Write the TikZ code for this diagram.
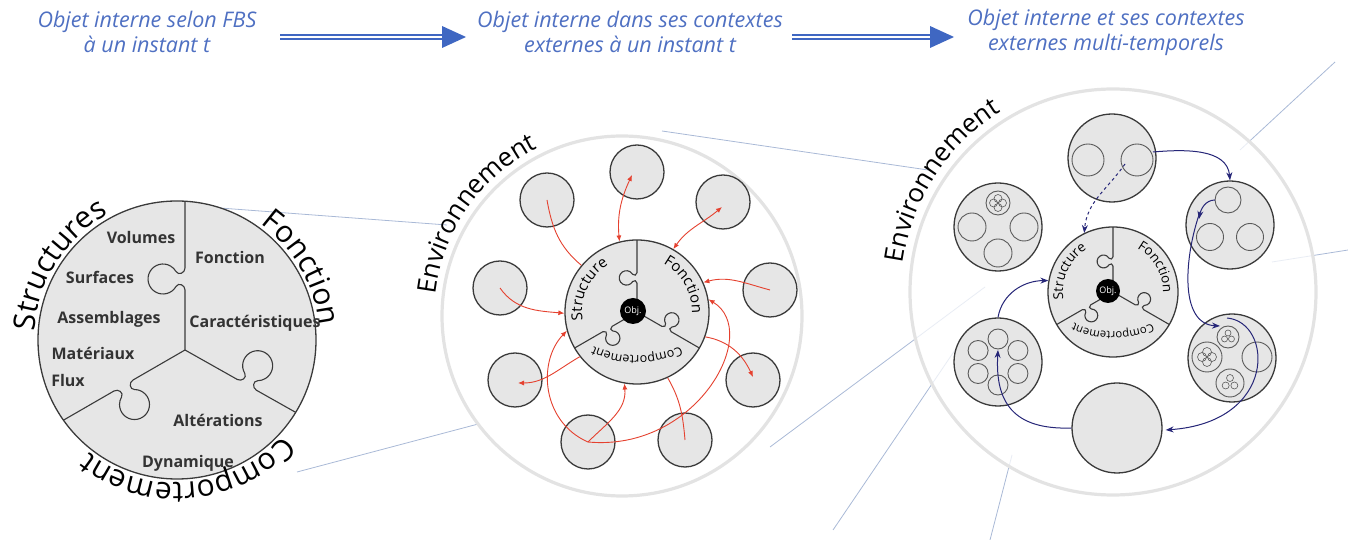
\documentclass[tikz,border=0pt]{standalone}
\usepackage{fontspec}
\setmainfont{Open Sans}
\usetikzlibrary{arrows.meta,decorations.text,calc}
\definecolor{ttlc}{HTML}{4F70C2}
\definecolor{tarrow}{HTML}{3F67C2}
\definecolor{zlc}{HTML}{A9B9D6}
\definecolor{ringc}{HTML}{E3E3E3}
\definecolor{cfill}{HTML}{E6E6E6}
\definecolor{cline}{HTML}{3A3A3A}
\definecolor{subline}{HTML}{5A5A5A}
\definecolor{ltc}{HTML}{333333}
\definecolor{redc}{HTML}{E5412F}
\definecolor{navy}{HTML}{262678}
\newcommand\puzarm[2]{%
  \begin{scope}[rotate=#1,scale=#2]
    \draw[puz] (0,0) -- (60,0) .. controls (65,0) and (67.8,6.5) .. (63.5,9)
      arc[start angle=240,end angle=-60,radius=15]
      .. controls (74.2,6.5) and (77,0) .. (82,0) -- (320,0);
  \end{scope}}
\newcommand\arctext[5]{%
  \path[decorate,decoration={text along path,text align=center,
    text={|\fontsize{#1}{#1}\selectfont|#2}}]
    (#3:#4) arc[start angle=#3,end angle=#5,radius=#4];}
\begin{document}
\begin{tikzpicture}[x=1pt,y=1pt,
  ttl/.style={align=center,text=ttlc,font=\fontsize{21.5}{25}\selectfont\itshape,inner sep=0},
  tshaft/.style={draw=tarrow,double=white,double distance=1.6pt,line width=2.6pt},
  zl/.style={draw=zlc,line width=0.8pt},
  ring/.style={circle,draw=ringc,line width=3.2pt,fill=white,inner sep=0},
  sat/.style={circle,draw=cline,line width=1.3pt,fill=cfill,inner sep=0},
  core/.style={circle,draw=cline,line width=1.3pt,fill=cfill,inner sep=0},
  puz/.style={draw=cline,line width=1.1pt},
  sub/.style={draw=subline,line width=0.9pt,fill=cfill},
  tinyc/.style={draw=subline,line width=0.6pt},
  lt/.style={font=\bfseries\fontsize{16}{16}\selectfont,text=ltc,inner sep=0},
  objc/.style={circle,fill=black,text=white,inner sep=0,minimum size=26,font=\fontsize{9}{9}\selectfont},
  rl/.style={draw=redc,line width=0.9pt},
  rarr/.style={rl,-{Latex[length=6pt,width=5pt]}},
  rdbl/.style={rl,{Latex[length=6pt,width=5pt]}-{Latex[length=6pt,width=5pt]}},
  bl/.style={draw=navy,line width=1pt,-{Stealth[length=8pt,width=6pt]}},
]
\useasboundingbox (0,0) rectangle (1348,540);

% ---------- titles ----------
\node[ttl] (t1) at (147,508) {Objet interne selon FBS\\à un instant t};
\node[ttl] (t2) at (630,508) {Objet interne dans ses contextes\\externes à un instant t};
\node[ttl] (t3) at (1106,508) {Objet interne et ses contextes\\externes multi-temporels};
\coordinate (a1s) at (280,503); \coordinate (a1e) at (444,503);
\coordinate (a2s) at (792,503); \coordinate (a2e) at (932,503);
\draw[tshaft] (a1s) -- (a1e);
\fill[tarrow] ($(a1e)+(-2,11)$) -- ($(a1e)+(22,0)$) -- ($(a1e)+(-2,-11)$) -- cycle;
\draw[tshaft] (a2s) -- (a2e);
\fill[tarrow] ($(a2e)+(-2,11)$) -- ($(a2e)+(22,0)$) -- ($(a2e)+(-2,-11)$) -- cycle;

% ---------- zoom lines ----------
\coordinate (z1a) at (220,332); \coordinate (z1b) at (447,315);
\coordinate (z2a) at (297,68);  \coordinate (z2b) at (482,117);
\coordinate (z3a) at (662,409); \coordinate (z3b) at (928,370);
\coordinate (z4a) at (770,93);  \coordinate (z4b) at (985,253);
\coordinate (z5a) at (833,10);  \coordinate (z5b) at (955,190);
\coordinate (z6a) at (990,0);   \coordinate (z6b) at (1012,85);
\coordinate (z7a) at (1335,478); \coordinate (z7b) at (1240,390);
\coordinate (z8a) at (1348,290); \coordinate (z8b) at (1272,278);
\foreach \i in {1,...,8} {\draw[zl] (z\i a) -- (z\i b);}

% ---------- left: FBS ----------
\begin{scope}[shift={(177,200)}]
  \node[core,minimum size=278] (lc) at (0,0) {};
  \begin{scope}
    \clip (0,0) circle[radius=139];
    \begin{scope}[shift={(8,-10)}]
      \puzarm{90}{1}\puzarm{-29.4}{1}\puzarm{210}{1}
    \end{scope}
  \end{scope}
  \node[lt] (lvol) at (-36,102) {Volumes};
  \node[lt] (lfon) at (53,82) {Fonction};
  \node[lt] (lsur) at (-77,63) {Surfaces};
  \node[lt] (lass) at (-68,21) {Assemblages};
  \node[lt] (lcar) at (78,17) {Caractéristiques};
  \node[lt] (lmat) at (-84,-13) {Matériaux};
  \node[lt] (lflu) at (-109,-41) {Flux};
  \node[lt] (lalt) at (41,-80) {Altérations};
  \node[lt] (ldyn) at (11,-123) {Dynamique};
  \arctext{30}{Structures}{205}{143}{90}
  \arctext{30}{Fonction}{85}{143}{-25}
  \arctext{30}{Comportement}{-15}{143}{-155}
\end{scope}

% ---------- middle ----------
\begin{scope}[shift={(637,228)}]
  \node[ring,minimum size=360] (menv) at (-15,-4) {};
  \begin{scope}[shift={(-15,-4)}]
    \arctext{26}{Environnement}{195}{188}{95}
  \end{scope}
  \node[sat,minimum size=54] (m1) at (0,140) {};
  \node[sat,minimum size=54] (m2) at (-90,112) {};
  \node[sat,minimum size=54] (m3) at (86,110) {};
  \node[sat,minimum size=54] (m4) at (-137,24) {};
  \node[sat,minimum size=54] (m5) at (133,22) {};
  \node[sat,minimum size=54] (m6) at (-122,-68) {};
  \node[sat,minimum size=54] (m7) at (116,-68) {};
  \node[sat,minimum size=54] (m8) at (-49,-130) {};
  \node[sat,minimum size=54] (m9) at (48,-128) {};
  \node[core,minimum size=144] (mc) at (0,0) {};
  \begin{scope}
    \clip (0,0) circle[radius=72];
    \puzarm{90}{0.48}\puzarm{-30}{0.48}\puzarm{210}{0.48}
  \end{scope}
  \arctext{15}{Structure}{205}{55}{105}
  \arctext{15}{Fonction}{80}{55}{-20}
  \begin{scope}[shift={(0,57)}]
    \arctext{12.5}{Comportement}{-50}{101}{-130}
  \end{scope}
  \node[objc] (mo) at (-4,1) {Obj.};
  % red arrows
  \draw[rl] (m2.center) to[out=-80,in=140] (mc.140);
  \draw[rdbl] ($(m1.center)+(-5,-3)$) to[out=-115,in=95] (mc.104);
  \draw[rdbl] ($(m3.center)+(-1,-5)$) to[out=-140,in=55] (mc.60);
  \draw[rarr] (m5.center) to[out=165,in=15] (mc.24);
  \draw[rarr] (m4.center) to[out=-55,in=175] (mc.181);
  \draw[rarr] (mc.218) to[out=-150,in=0] ($(m6.center)+(3,-3)$);
  \draw[rarr] (mc.-20) to[out=-10,in=115] ($(m7.center)+(0,3)$);
  \draw[rarr] (m8.center) to[out=45,in=-85] (mc.-100);
  \draw[rl] (m9.center) to[out=95,in=-60] (mc.-65);
  \draw[rarr] (m8.center) .. controls (-95,-110) and (-100,-50) .. (mc.195);
  \draw[rarr] (m8.center) .. controls (60,-140) and (125,-20) .. (mc.10);
\end{scope}

% ---------- right ----------
\begin{scope}[shift={(1113,248)}]
  \node[ring,minimum size=406,fill opacity=0.75] (renv) at (0,0) {};
  \arctext{26}{Environnement}{197}{212}{97}
  \node[sat,minimum size=88] (ra) at (-1,134) {};
  \node[sat,minimum size=88] (rb) at (117,67) {};
  \node[sat,minimum size=88] (rx) at (-115,65) {};
  \node[sat,minimum size=88] (rd) at (119,-66) {};
  \node[sat,minimum size=88] (re) at (-115,-70) {};
  \node[sat,minimum size=90] (rf) at (4,-136) {};
  % sub circles
  \draw[sub] ($(ra.center)+(-24,-2)$) circle[radius=16];
  \draw[sub] ($(ra.center)+(25,-2)$) circle[radius=16];
  \draw[sub] ($(rb.center)+(-2,25)$) circle[radius=13];
  \draw[sub] ($(rb.center)+(-20,-12)$) circle[radius=13.5];
  \draw[sub] ($(rb.center)+(20,-12)$) circle[radius=13.5];
  \draw[sub] ($(rx.center)+(0,24)$) circle[radius=12];
  \foreach \a in {0,90,180,270} {\draw[tinyc] ($(rx.center)+(0,24)+(\a:4.5)$) circle[radius=4];}
  \draw[sub] ($(rx.center)+(-26,0)$) circle[radius=14];
  \draw[sub] ($(rx.center)+(26,0)$) circle[radius=14];
  \draw[sub] ($(rx.center)+(0,-26)$) circle[radius=14];
  \draw[sub] ($(rd.center)+(-4,21)$) circle[radius=11];
  \foreach \a in {90,210,330} {\draw[tinyc] ($(rd.center)+(-4,21)+(\a:4)$) circle[radius=3];}
  \draw[sub] ($(rd.center)+(-25,1)$) circle[radius=15];
  \foreach \a in {0,90,180,270} {\draw[tinyc] ($(rd.center)+(-25,1)+(\a:5)$) circle[radius=4.5];}
  \draw[sub] ($(rd.center)+(25,1)$) circle[radius=15];
  \draw[sub] ($(rd.center)+(-2,-25)$) circle[radius=14];
  \foreach \a in {90,210,330} {\draw[tinyc] ($(rd.center)+(-2,-25)+(\a:5)$) circle[radius=3.5];}
  \foreach \a in {90,30,-30,-90,-150,150} {\draw[sub] ($(re.center)+(\a:23)$) circle[radius=10];}
  % core
  \node[core,minimum size=130] (rcore) at (0,0) {};
  \begin{scope}
    \clip (0,0) circle[radius=65];
    \puzarm{90}{0.43}\puzarm{-30}{0.43}\puzarm{210}{0.43}
  \end{scope}
  \arctext{13.5}{Structure}{205}{50}{105}
  \arctext{13.5}{Fonction}{80}{50}{-20}
  \begin{scope}[shift={(0,51)}]
    \arctext{11.3}{Comportement}{-50}{91}{-130}
  \end{scope}
  \node[objc,minimum size=24] (ro) at (-5,1) {Obj.};
  % blue arrows
  \draw[bl] ($(ra.center)+(41,6)$) to[out=5,in=95] (rb.north);
  \draw[bl,dashed] ($(ra.center)+(13,-6)$) to[out=-125,in=85] (rcore.116);
  \draw[bl] ($(rb.center)+(-15,25)$) to[out=180,in=80] ($(rb.center)+(-31,6)$);
  \draw[bl] ($(rb.center)+(-30,13)$) .. controls (72,38) and (65,-32) .. ($(rd.center)+(-12,32)$);
  \draw[bl] ($(rd.center)+(-5,40)$) .. controls (160,-30) and (165,-130) .. ($(rf.east)+(3,-2)$);
  \draw[bl] (rf.west) .. controls (-100,-138) and (-118,-110) .. ($(re.center)+(0,12)$);
  \draw[bl] (re.north) to[out=80,in=180] (rcore.170);
\end{scope}
\end{tikzpicture}
\end{document}
